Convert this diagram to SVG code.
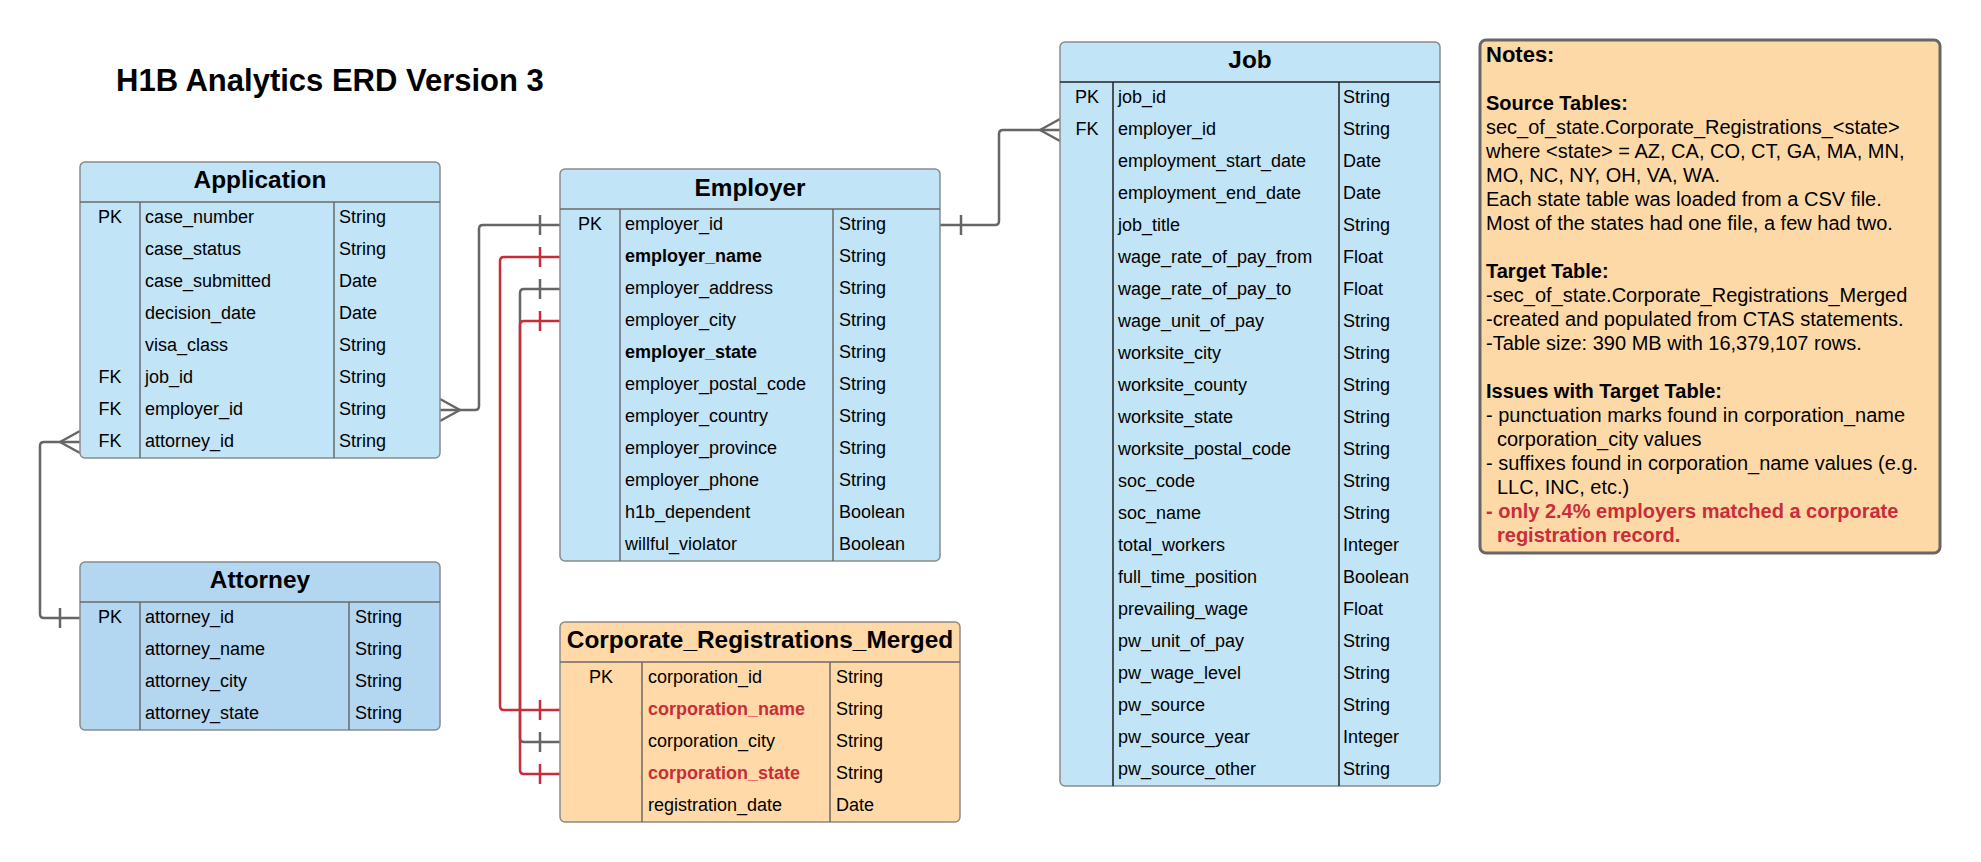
<svg xmlns="http://www.w3.org/2000/svg" width="1981" height="862" viewBox="0 0 1981 862">
<style>
text{font-family:"Liberation Sans",Arial,sans-serif;fill:#000}
.t{font-size:24.4px;font-weight:bold;text-anchor:middle}
.r{font-size:18px}
.k{font-size:18px;text-anchor:middle}
.b{font-weight:bold}
.red{fill:#c92d39;font-weight:bold}
.blue{fill:#c2e4f7;stroke:#8a8a8a;stroke-width:1.5}
.blue2{fill:#b3d6f1;stroke:#8a8a8a;stroke-width:1.5}
.org{fill:#ffdaa8;stroke:#8a8a8a;stroke-width:1.5}
.dv{stroke:#6a6a6a;stroke-width:1.5}
.dvj{stroke:#222;stroke-width:1.5}
.c{fill:none;stroke:#666;stroke-width:2.5;stroke-linejoin:round}
.cr{fill:none;stroke:#c92d39;stroke-width:2.5;stroke-linejoin:round}
.n{font-size:20px}
</style>
<text x="116" y="91" style="font-size:31px;font-weight:bold">H1B Analytics ERD Version 3</text>

<g id="connectors">
<!-- Application.employer_id -> Employer.employer_id -->
<path class="c" d="M440,410 H475 Q479,410 479,406 V229 Q479,225 483,225 H560"/>
<path class="c" d="M440,399 L460,410 L440,421"/>
<path class="c" d="M540,215 V235"/>
<!-- Application.attorney_id -> Attorney.attorney_id -->
<path class="c" d="M80,442 H44 Q40,442 40,446 V614 Q40,618 44,618 H80"/>
<path class="c" d="M80,431 L60,442 L80,453"/>
<path class="c" d="M60,608 V628"/>
<!-- Employer.employer_id -> Job.employer_id -->
<path class="c" d="M940,225 H995 Q999,225 999,221 V134 Q999,130 1003,130 H1060"/>
<path class="c" d="M1060,119 L1040,130 L1060,141"/>
<path class="c" d="M961,215 V235"/>
<!-- employer_city -> corporation_city -->
<path class="c" d="M560,289 H524 Q520,289 520,293 V738 Q520,742 524,742 H560"/>
<path class="c" d="M540,279 V299 M540,732 V752"/>
<!-- employer_name -> corporation_name -->
<path class="cr" d="M560,257 H504 Q500,257 500,261 V706 Q500,710 504,710 H560"/>
<path class="cr" d="M540,247 V267 M540,700 V720"/>
<!-- employer_state -> corporation_state -->
<path class="cr" d="M560,321 H524 Q520,321 520,325 V770 Q520,774 524,774 H560"/>
<path class="cr" d="M540,311 V331 M540,764 V784"/>
</g>

<g id="application">
<rect class="blue" x="80" y="162" width="360" height="296" rx="5"/>
<line class="dv" x1="80" y1="202" x2="440" y2="202"/>
<line class="dv" x1="140" y1="202" x2="140" y2="458"/>
<line class="dv" x1="334" y1="202" x2="334" y2="458"/>
<text class="t" x="260" y="188">Application</text>
<text class="k" x="110" y="222.5">PK</text><text class="r" x="145" y="222.5">case_number</text><text class="r" x="339" y="222.5">String</text>
<text class="r" x="145" y="254.5">case_status</text><text class="r" x="339" y="254.5">String</text>
<text class="r" x="145" y="286.5">case_submitted</text><text class="r" x="339" y="286.5">Date</text>
<text class="r" x="145" y="318.5">decision_date</text><text class="r" x="339" y="318.5">Date</text>
<text class="r" x="145" y="350.5">visa_class</text><text class="r" x="339" y="350.5">String</text>
<text class="k" x="110" y="382.5">FK</text><text class="r" x="145" y="382.5">job_id</text><text class="r" x="339" y="382.5">String</text>
<text class="k" x="110" y="414.5">FK</text><text class="r" x="145" y="414.5">employer_id</text><text class="r" x="339" y="414.5">String</text>
<text class="k" x="110" y="446.5">FK</text><text class="r" x="145" y="446.5">attorney_id</text><text class="r" x="339" y="446.5">String</text>
</g>

<g id="attorney">
<rect class="blue2" x="80" y="562" width="360" height="168" rx="5"/>
<line class="dv" x1="80" y1="602" x2="440" y2="602"/>
<line class="dv" x1="140" y1="602" x2="140" y2="730"/>
<line class="dv" x1="349" y1="602" x2="349" y2="730"/>
<text class="t" x="260" y="588">Attorney</text>
<text class="k" x="110" y="622.5">PK</text><text class="r" x="145" y="622.5">attorney_id</text><text class="r" x="355" y="622.5">String</text>
<text class="r" x="145" y="654.5">attorney_name</text><text class="r" x="355" y="654.5">String</text>
<text class="r" x="145" y="686.5">attorney_city</text><text class="r" x="355" y="686.5">String</text>
<text class="r" x="145" y="718.5">attorney_state</text><text class="r" x="355" y="718.5">String</text>
</g>

<g id="employer">
<rect class="blue" x="560" y="169" width="380" height="392" rx="5"/>
<line class="dv" x1="560" y1="209" x2="940" y2="209"/>
<line class="dv" x1="620" y1="209" x2="620" y2="561"/>
<line class="dv" x1="833" y1="209" x2="833" y2="561"/>
<text class="t" x="750" y="196">Employer</text>
<text class="k" x="590" y="229.5">PK</text><text class="r" x="625" y="229.5">employer_id</text><text class="r" x="839" y="229.5">String</text>
<text class="r b" x="625" y="261.5">employer_name</text><text class="r" x="839" y="261.5">String</text>
<text class="r" x="625" y="293.5">employer_address</text><text class="r" x="839" y="293.5">String</text>
<text class="r" x="625" y="325.5">employer_city</text><text class="r" x="839" y="325.5">String</text>
<text class="r b" x="625" y="357.5">employer_state</text><text class="r" x="839" y="357.5">String</text>
<text class="r" x="625" y="389.5">employer_postal_code</text><text class="r" x="839" y="389.5">String</text>
<text class="r" x="625" y="421.5">employer_country</text><text class="r" x="839" y="421.5">String</text>
<text class="r" x="625" y="453.5">employer_province</text><text class="r" x="839" y="453.5">String</text>
<text class="r" x="625" y="485.5">employer_phone</text><text class="r" x="839" y="485.5">String</text>
<text class="r" x="625" y="517.5">h1b_dependent</text><text class="r" x="839" y="517.5">Boolean</text>
<text class="r" x="625" y="549.5">willful_violator</text><text class="r" x="839" y="549.5">Boolean</text>
</g>

<g id="corporate_registrations_merged">
<rect class="org" x="560" y="622" width="400" height="200" rx="5"/>
<line class="dv" x1="560" y1="662" x2="960" y2="662"/>
<line class="dv" x1="642" y1="662" x2="642" y2="822"/>
<line class="dv" x1="830" y1="662" x2="830" y2="822"/>
<text class="t" x="760" y="648">Corporate_Registrations_Merged</text>
<text class="k" x="601" y="682.5">PK</text><text class="r" x="648" y="682.5">corporation_id</text><text class="r" x="836" y="682.5">String</text>
<text class="r red" x="648" y="714.5">corporation_name</text><text class="r" x="836" y="714.5">String</text>
<text class="r" x="648" y="746.5">corporation_city</text><text class="r" x="836" y="746.5">String</text>
<text class="r red" x="648" y="778.5">corporation_state</text><text class="r" x="836" y="778.5">String</text>
<text class="r" x="648" y="810.5">registration_date</text><text class="r" x="836" y="810.5">Date</text>
</g>

<g id="job">
<rect class="blue" x="1060" y="42" width="380" height="744" rx="5"/>
<line class="dvj" x1="1060" y1="82" x2="1440" y2="82"/>
<line class="dvj" x1="1113" y1="82" x2="1113" y2="786"/>
<line class="dvj" x1="1339" y1="82" x2="1339" y2="786"/>
<text class="t" x="1250" y="68">Job</text>
<text class="k" x="1087" y="102.5">PK</text><text class="r" x="1118" y="102.5">job_id</text><text class="r" x="1343" y="102.5">String</text>
<text class="k" x="1087" y="134.5">FK</text><text class="r" x="1118" y="134.5">employer_id</text><text class="r" x="1343" y="134.5">String</text>
<text class="r" x="1118" y="166.5">employment_start_date</text><text class="r" x="1343" y="166.5">Date</text>
<text class="r" x="1118" y="198.5">employment_end_date</text><text class="r" x="1343" y="198.5">Date</text>
<text class="r" x="1118" y="230.5">job_title</text><text class="r" x="1343" y="230.5">String</text>
<text class="r" x="1118" y="262.5">wage_rate_of_pay_from</text><text class="r" x="1343" y="262.5">Float</text>
<text class="r" x="1118" y="294.5">wage_rate_of_pay_to</text><text class="r" x="1343" y="294.5">Float</text>
<text class="r" x="1118" y="326.5">wage_unit_of_pay</text><text class="r" x="1343" y="326.5">String</text>
<text class="r" x="1118" y="358.5">worksite_city</text><text class="r" x="1343" y="358.5">String</text>
<text class="r" x="1118" y="390.5">worksite_county</text><text class="r" x="1343" y="390.5">String</text>
<text class="r" x="1118" y="422.5">worksite_state</text><text class="r" x="1343" y="422.5">String</text>
<text class="r" x="1118" y="454.5">worksite_postal_code</text><text class="r" x="1343" y="454.5">String</text>
<text class="r" x="1118" y="486.5">soc_code</text><text class="r" x="1343" y="486.5">String</text>
<text class="r" x="1118" y="518.5">soc_name</text><text class="r" x="1343" y="518.5">String</text>
<text class="r" x="1118" y="550.5">total_workers</text><text class="r" x="1343" y="550.5">Integer</text>
<text class="r" x="1118" y="582.5">full_time_position</text><text class="r" x="1343" y="582.5">Boolean</text>
<text class="r" x="1118" y="614.5">prevailing_wage</text><text class="r" x="1343" y="614.5">Float</text>
<text class="r" x="1118" y="646.5">pw_unit_of_pay</text><text class="r" x="1343" y="646.5">String</text>
<text class="r" x="1118" y="678.5">pw_wage_level</text><text class="r" x="1343" y="678.5">String</text>
<text class="r" x="1118" y="710.5">pw_source</text><text class="r" x="1343" y="710.5">String</text>
<text class="r" x="1118" y="742.5">pw_source_year</text><text class="r" x="1343" y="742.5">Integer</text>
<text class="r" x="1118" y="774.5">pw_source_other</text><text class="r" x="1343" y="774.5">String</text>
</g>

<g id="notes">
<rect x="1480" y="40" width="460" height="513" rx="6" fill="#fed9a8" stroke="#666" stroke-width="3"/>
<text class="b" x="1486" y="62" style="font-size:22px">Notes:</text>
<text class="n b" x="1486" y="110">Source Tables:</text>
<text class="n" x="1486" y="134">sec_of_state.Corporate_Registrations_&lt;state&gt;</text>
<text class="n" x="1486" y="158">where &lt;state&gt; = AZ, CA, CO, CT, GA, MA, MN,</text>
<text class="n" x="1486" y="182">MO, NC, NY, OH, VA, WA.</text>
<text class="n" x="1486" y="206">Each state table was loaded from a CSV file.</text>
<text class="n" x="1486" y="230">Most of the states had one file, a few had two.</text>
<text class="n b" x="1486" y="278">Target Table:</text>
<text class="n" x="1486" y="302">-sec_of_state.Corporate_Registrations_Merged</text>
<text class="n" x="1486" y="326">-created and populated from CTAS statements.</text>
<text class="n" x="1486" y="350">-Table size: 390 MB with 16,379,107 rows.</text>
<text class="n b" x="1486" y="398">Issues with Target Table:</text>
<text class="n" x="1486" y="422">- punctuation marks found in corporation_name</text>
<text class="n" x="1497" y="446">corporation_city values</text>
<text class="n" x="1486" y="470">- suffixes found in corporation_name values (e.g.</text>
<text class="n" x="1497" y="494">LLC, INC, etc.)</text>
<text class="n red" x="1486" y="518">- only 2.4% employers matched a corporate</text>
<text class="n red" x="1497" y="542">registration record.</text>
</g>
</svg>
